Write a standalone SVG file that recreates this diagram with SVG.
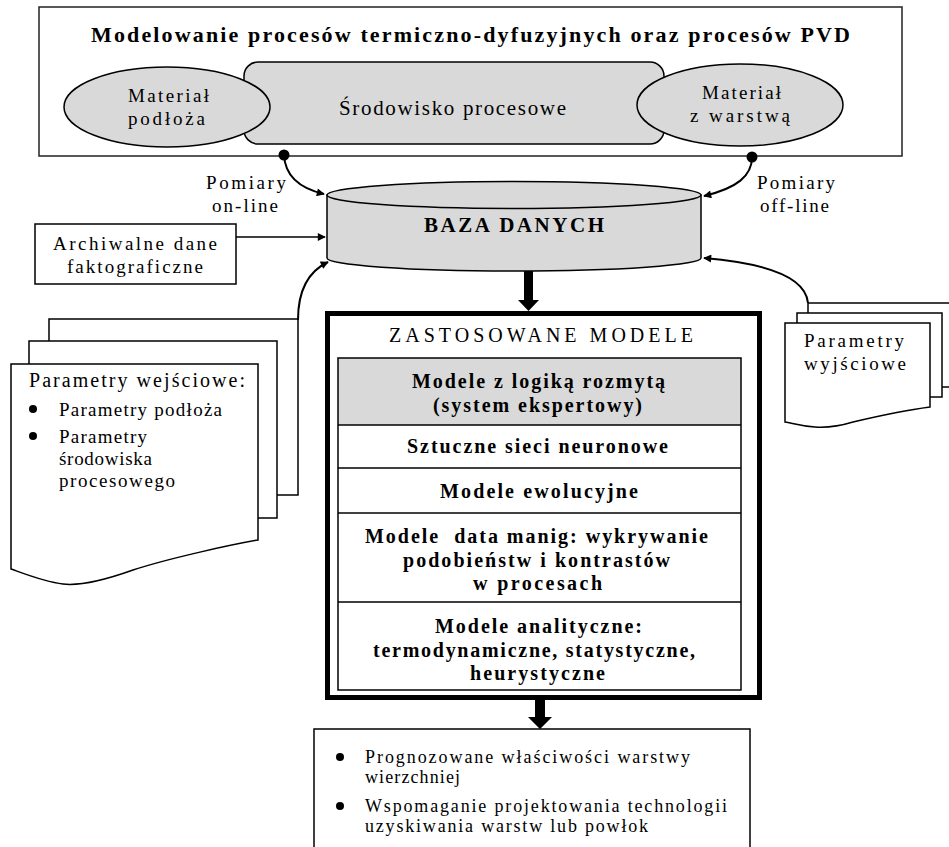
<svg xmlns="http://www.w3.org/2000/svg" width="949" height="847" viewBox="0 0 949 847">
<style>
text{font-family:"Liberation Serif","Times New Roman",serif;fill:#000}
.r{font-size:19px}
.b{font-size:20px;font-weight:bold}
.s{font-size:19px}
.box{fill:#fff;stroke:#000;stroke-width:1.5}
.gray{fill:#d9d9d9;stroke:#000;stroke-width:1.5}
.con{fill:none;stroke:#000;stroke-width:2}
.thin{fill:none;stroke:#000;stroke-width:1.3}
</style>
<defs>
<marker id="ah" viewBox="0 0 10 10" refX="9" refY="5" markerWidth="10" markerHeight="8" markerUnits="userSpaceOnUse" orient="auto">
<path d="M0,0 L10,5 L0,10 Z" fill="#000"/>
</marker>
</defs>

<g id="process">
<rect x="39" y="7" width="863" height="149" fill="#fff" stroke="#222" stroke-width="1.5"/>
<text x="91" y="42" font-size="22" font-weight="bold" textLength="759" lengthAdjust="spacing">Modelowanie procesów termiczno-dyfuzyjnych oraz procesów PVD</text>
</g>
<g id="srodowisko">
<rect x="244" y="62" width="420" height="82" rx="14" class="gray"/>
<text x="339" y="115" font-size="21" textLength="227" lengthAdjust="spacing">Środowisko procesowe</text>
</g>
<g id="material-podloza">
<ellipse cx="167" cy="107" rx="103" ry="40" class="gray"/>
<text class="r" x="128" y="102" textLength="81" lengthAdjust="spacing">Materiał</text>
<text class="r" x="128" y="125" textLength="77" lengthAdjust="spacing">podłoża</text>
</g>
<g id="material-warstwa">
<ellipse cx="740" cy="105" rx="103" ry="41" class="gray"/>
<text class="r" x="702" y="99" textLength="79" lengthAdjust="spacing">Materiał</text>
<text class="r" x="690" y="122" textLength="100" lengthAdjust="spacing">z warstwą</text>
</g>

<g id="baza">
<path d="M327,195 L327,258 A187,13 0 0 0 701,258 L701,195 Z" class="gray"/>
<ellipse cx="514" cy="195" rx="187" ry="13.5" class="gray"/>
<text x="424" y="232" font-size="21" font-weight="bold" textLength="180" lengthAdjust="spacing">BAZA DANYCH</text>
</g>

<g id="archiwalne">
<rect x="35" y="224" width="201" height="60" class="box"/>
<text class="r" x="53" y="250" textLength="164" lengthAdjust="spacing">Archiwalne dane</text>
<text class="r" x="67" y="273" textLength="136" lengthAdjust="spacing">faktograficzne</text>
</g>

<g id="parametry-wejsciowe">
<rect x="49" y="319" width="249" height="176" class="box"/>
<rect x="29" y="341" width="248" height="177" class="box"/>
<path d="M11,364 H258 V540 C230,545 170,558 133,570 C105,580 80,586 63,584 C45,582 25,574 11,569 Z" class="box"/>
<text x="29" y="387" font-size="20" textLength="216" lengthAdjust="spacing">Parametry wejściowe:</text>
<circle cx="33" cy="409" r="4"/>
<text class="s" x="59" y="416" textLength="163" lengthAdjust="spacing">Parametry podłoża</text>
<circle cx="33" cy="436" r="4"/>
<text class="s" x="59" y="443" textLength="88" lengthAdjust="spacing">Parametry</text>
<text class="s" x="59" y="465" textLength="93" lengthAdjust="spacing">środowiska</text>
<text class="s" x="59" y="487" textLength="116" lengthAdjust="spacing">procesowego</text>
</g>

<g id="parametry-wyjsciowe">
<rect x="808" y="303" width="160" height="84" class="box"/>
<rect x="797" y="313" width="145" height="84" class="box"/>
<path d="M785,323 H930 V407 C900,411 870,418 853,422 C840,426 830,428 815,427 C800,426 792,423 785,422 Z" class="box"/>
<text class="s" x="804" y="347" textLength="100" lengthAdjust="spacing">Parametry</text>
<text class="s" x="804" y="370" textLength="102" lengthAdjust="spacing">wyjściowe</text>
</g>

<g id="modele">
<rect x="327.5" y="313.5" width="432" height="384" fill="#fff" stroke="#000" stroke-width="5"/>
<text x="389" y="342" font-size="20" textLength="304" lengthAdjust="spacing">ZASTOSOWANE MODELE</text>
<rect x="338" y="358" width="403" height="67" fill="#d9d9d9"/>
<rect x="338" y="358" width="403" height="332" fill="none" stroke="#000" stroke-width="1.5"/>
<line x1="338" y1="425" x2="741" y2="425" stroke="#000" stroke-width="1.5"/>
<line x1="338" y1="468" x2="741" y2="468" stroke="#000" stroke-width="1.5"/>
<line x1="338" y1="513" x2="741" y2="513" stroke="#000" stroke-width="1.5"/>
<line x1="338" y1="602" x2="741" y2="602" stroke="#000" stroke-width="1.5"/>
<text class="b" x="412" y="388" textLength="253" lengthAdjust="spacing">Modele z logiką rozmytą</text>
<text class="b" x="433" y="412" textLength="209" lengthAdjust="spacing">(system ekspertowy)</text>
<text class="b" x="407" y="453" textLength="261" lengthAdjust="spacing">Sztuczne sieci neuronowe</text>
<text class="b" x="440" y="498" textLength="198" lengthAdjust="spacing">Modele ewolucyjne</text>
<text class="b" x="365" y="543" textLength="343" lengthAdjust="spacing" xml:space="preserve">Modele  data manig: wykrywanie</text>
<text class="b" x="403" y="567" textLength="267" lengthAdjust="spacing">podobieństw i kontrastów</text>
<text class="b" x="473" y="590" textLength="129" lengthAdjust="spacing">w procesach</text>
<text class="b" x="435" y="633" textLength="207" lengthAdjust="spacing">Modele analityczne:</text>
<text class="b" x="373" y="657" textLength="322" lengthAdjust="spacing">termodynamiczne, statystyczne,</text>
<text class="b" x="470" y="680" textLength="135" lengthAdjust="spacing">heurystyczne</text>
</g>

<g id="wyniki">
<rect x="314" y="729" width="436" height="130" class="box"/>
<circle cx="340" cy="757" r="4"/>
<text x="365" y="763" font-size="18" textLength="325" lengthAdjust="spacing">Prognozowane właściwości warstwy</text>
<text x="365" y="783" font-size="18" textLength="95" lengthAdjust="spacing">wierzchniej</text>
<circle cx="340" cy="806" r="4"/>
<text x="365" y="812" font-size="18" textLength="362" lengthAdjust="spacing">Wspomaganie projektowania technologii</text>
<text x="365" y="832" font-size="18" textLength="283" lengthAdjust="spacing">uzyskiwania warstw lub powłok</text>
</g>

<g id="connectors">
<circle cx="284" cy="155" r="5.5"/>
<circle cx="752" cy="157" r="5.5"/>
<path class="con" d="M284,155 C285,175 298,188 324,194" marker-end="url(#ah)"/>
<path class="con" d="M752,157 C752,176 737,188 704,196" marker-end="url(#ah)"/>
<path class="thin" d="M236,237 L325,237" marker-end="url(#ah)"/>
<path class="con" d="M298,320 C298,292 307,272 328,262" marker-end="url(#ah)"/>
<path class="con" d="M808,303 C806,280 775,264 704,258" marker-end="url(#ah)"/>
<text class="r" x="206" y="189" textLength="80" lengthAdjust="spacing">Pomiary</text>
<text class="r" x="212" y="212" textLength="66" lengthAdjust="spacing">on-line</text>
<text class="r" x="757" y="189" textLength="78" lengthAdjust="spacing">Pomiary</text>
<text class="r" x="760" y="212" textLength="69" lengthAdjust="spacing">off-line</text>
<path d="M524,271 H533 V300 H539 L528.5,311 L518,300 H524 Z" fill="#000"/>
<path d="M535,699 H545 V717 H552 L540,729 L528,717 H535 Z" fill="#000"/>
</g>
</svg>
